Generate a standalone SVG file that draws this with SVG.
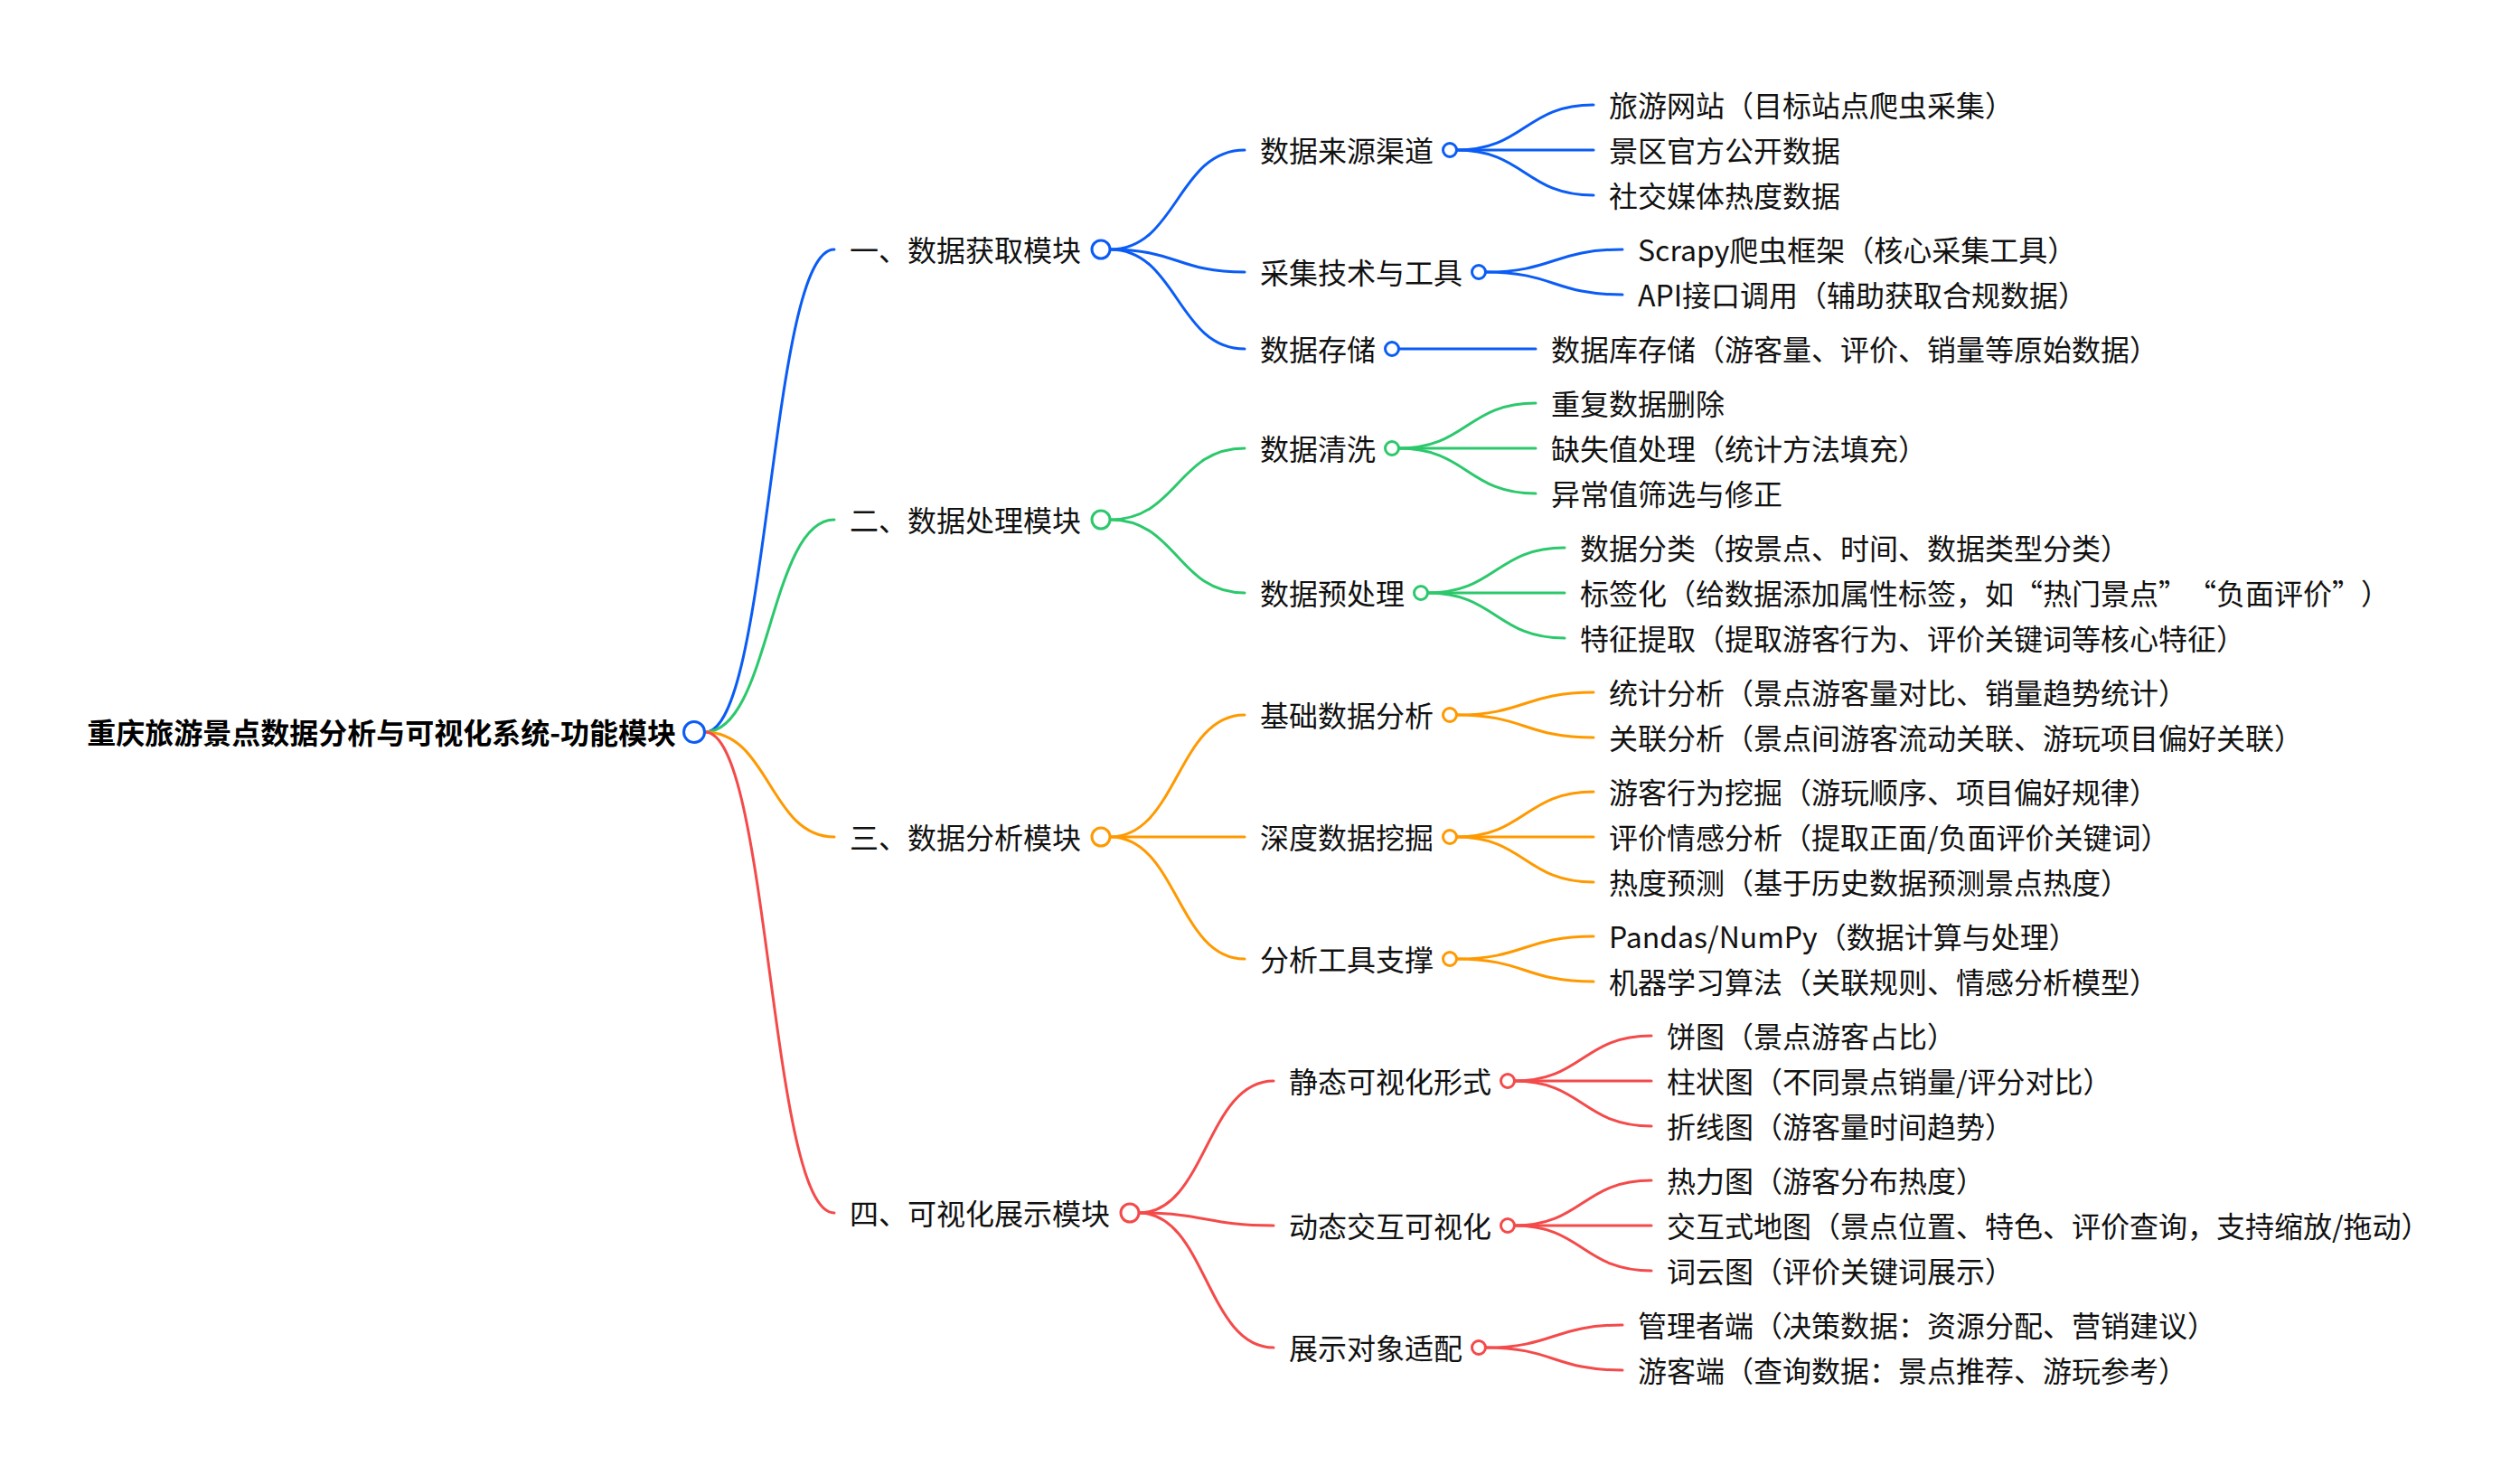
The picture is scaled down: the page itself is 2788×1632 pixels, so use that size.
<svg xmlns="http://www.w3.org/2000/svg" width="2788" height="1632" viewBox="0 0 2788 1632">
<style>
.t{font-family:"Noto Sans CJK SC","Noto Sans",sans-serif;font-size:32px;fill:#111}
.root{font-weight:bold;fill:#000}
.c{fill:none;stroke-width:3;stroke-linecap:round}
.n{fill:#fff;stroke-width:3}
.b{stroke:#0a5cf5}
.g{stroke:#2cc86c}
.o{stroke:#ff9900}
.r{stroke:#f44a4a}
</style>
<rect width="2788" height="1632" fill="#fff"/>
<g id="connectors">
<path class="c b" d="M780 810 C851.5 810 851.5 276 923 276"/>
<path class="c g" d="M780 810 C851.5 810 851.5 575 923 575"/>
<path class="c o" d="M780 810 C851.5 810 851.5 926 923 926"/>
<path class="c r" d="M780 810 C851.5 810 851.5 1342 923 1342"/>
<path class="c b" d="M1228 276 C1302.5 276 1302.5 166 1377 166"/>
<path class="c b" d="M1228 276 C1302.5 276 1302.5 301 1377 301"/>
<path class="c b" d="M1228 276 C1302.5 276 1302.5 386 1377 386"/>
<path class="c g" d="M1228 575 C1302.5 575 1302.5 496 1377 496"/>
<path class="c g" d="M1228 575 C1302.5 575 1302.5 656 1377 656"/>
<path class="c o" d="M1228 926 C1302.5 926 1302.5 791 1377 791"/>
<path class="c o" d="M1228 926 L1377 926"/>
<path class="c o" d="M1228 926 C1302.5 926 1302.5 1061 1377 1061"/>
<path class="c r" d="M1260 1342 C1334.5 1342 1334.5 1196 1409 1196"/>
<path class="c r" d="M1260 1342 C1334.5 1342 1334.5 1356 1409 1356"/>
<path class="c r" d="M1260 1342 C1334.5 1342 1334.5 1491 1409 1491"/>
<path class="c b" d="M1611.5 166 C1687 166 1687 116 1763 116"/>
<path class="c b" d="M1611.5 166 L1763 166"/>
<path class="c b" d="M1611.5 166 C1687 166 1687 216 1763 216"/>
<path class="c b" d="M1643.5 301 C1719 301 1719 276 1795 276"/>
<path class="c b" d="M1643.5 301 C1719 301 1719 326 1795 326"/>
<path class="c b" d="M1547.5 386 L1699 386"/>
<path class="c g" d="M1547.5 496 C1623 496 1623 446 1699 446"/>
<path class="c g" d="M1547.5 496 L1699 496"/>
<path class="c g" d="M1547.5 496 C1623 496 1623 546 1699 546"/>
<path class="c g" d="M1579.5 656 C1655 656 1655 606 1731 606"/>
<path class="c g" d="M1579.5 656 L1731 656"/>
<path class="c g" d="M1579.5 656 C1655 656 1655 706 1731 706"/>
<path class="c o" d="M1611.5 791 C1687 791 1687 766 1763 766"/>
<path class="c o" d="M1611.5 791 C1687 791 1687 816 1763 816"/>
<path class="c o" d="M1611.5 926 C1687 926 1687 876 1763 876"/>
<path class="c o" d="M1611.5 926 L1763 926"/>
<path class="c o" d="M1611.5 926 C1687 926 1687 976 1763 976"/>
<path class="c o" d="M1611.5 1061 C1687 1061 1687 1036 1763 1036"/>
<path class="c o" d="M1611.5 1061 C1687 1061 1687 1086 1763 1086"/>
<path class="c r" d="M1675.5 1196 C1751 1196 1751 1146 1827 1146"/>
<path class="c r" d="M1675.5 1196 L1827 1196"/>
<path class="c r" d="M1675.5 1196 C1751 1196 1751 1246 1827 1246"/>
<path class="c r" d="M1675.5 1356 C1751 1356 1751 1306 1827 1306"/>
<path class="c r" d="M1675.5 1356 L1827 1356"/>
<path class="c r" d="M1675.5 1356 C1751 1356 1751 1406 1827 1406"/>
<path class="c r" d="M1643.5 1491 C1719 1491 1719 1466 1795 1466"/>
<path class="c r" d="M1643.5 1491 C1719 1491 1719 1516 1795 1516"/>
</g>
<g id="root"><text class="t root" x="748" y="823" text-anchor="end">重庆旅游景点数据分析与可视化系统-功能模块</text><circle class="n b" cx="768" cy="810" r="11.5"/></g>
<g id="m1"><text class="t" x="940" y="289">一、数据获取模块</text><circle class="n b" cx="1218" cy="276" r="10"/></g>
<g id="m2"><text class="t" x="940" y="588">二、数据处理模块</text><circle class="n g" cx="1218" cy="575" r="10"/></g>
<g id="m3"><text class="t" x="940" y="939">三、数据分析模块</text><circle class="n o" cx="1218" cy="926" r="10"/></g>
<g id="m4"><text class="t" x="940" y="1355">四、可视化展示模块</text><circle class="n r" cx="1250" cy="1342" r="10"/></g>
<g id="m1a"><text class="t" x="1394" y="179">数据来源渠道</text><circle class="n b" cx="1604" cy="166" r="7.5"/></g>
<g id="m1b"><text class="t" x="1394" y="314">采集技术与工具</text><circle class="n b" cx="1636" cy="301" r="7.5"/></g>
<g id="m1c"><text class="t" x="1394" y="399">数据存储</text><circle class="n b" cx="1540" cy="386" r="7.5"/></g>
<g id="m2a"><text class="t" x="1394" y="509">数据清洗</text><circle class="n g" cx="1540" cy="496" r="7.5"/></g>
<g id="m2b"><text class="t" x="1394" y="669">数据预处理</text><circle class="n g" cx="1572" cy="656" r="7.5"/></g>
<g id="m3a"><text class="t" x="1394" y="804">基础数据分析</text><circle class="n o" cx="1604" cy="791" r="7.5"/></g>
<g id="m3b"><text class="t" x="1394" y="939">深度数据挖掘</text><circle class="n o" cx="1604" cy="926" r="7.5"/></g>
<g id="m3c"><text class="t" x="1394" y="1074">分析工具支撑</text><circle class="n o" cx="1604" cy="1061" r="7.5"/></g>
<g id="m4a"><text class="t" x="1426" y="1209">静态可视化形式</text><circle class="n r" cx="1668" cy="1196" r="7.5"/></g>
<g id="m4b"><text class="t" x="1426" y="1369">动态交互可视化</text><circle class="n r" cx="1668" cy="1356" r="7.5"/></g>
<g id="m4c"><text class="t" x="1426" y="1504">展示对象适配</text><circle class="n r" cx="1636" cy="1491" r="7.5"/></g>
<g id="l1"><text class="t" x="1780" y="129">旅游网站（目标站点爬虫采集）</text></g>
<g id="l2"><text class="t" x="1780" y="179">景区官方公开数据</text></g>
<g id="l3"><text class="t" x="1780" y="229">社交媒体热度数据</text></g>
<g id="l4"><text class="t" x="1812" y="289">Scrapy爬虫框架（核心采集工具）</text></g>
<g id="l5"><text class="t" x="1812" y="339">API接口调用（辅助获取合规数据）</text></g>
<g id="l6"><text class="t" x="1716" y="399">数据库存储（游客量、评价、销量等原始数据）</text></g>
<g id="l7"><text class="t" x="1716" y="459">重复数据删除</text></g>
<g id="l8"><text class="t" x="1716" y="509">缺失值处理（统计方法填充）</text></g>
<g id="l9"><text class="t" x="1716" y="559">异常值筛选与修正</text></g>
<g id="l10"><text class="t" x="1748" y="619">数据分类（按景点、时间、数据类型分类）</text></g>
<g id="l11"><text class="t" x="1748" y="669">标签化（给数据添加属性标签，如“热门景点”<tspan dx="16">“负面评价”</tspan><tspan dx="16">）</tspan></text></g>
<g id="l12"><text class="t" x="1748" y="719">特征提取（提取游客行为、评价关键词等核心特征）</text></g>
<g id="l13"><text class="t" x="1780" y="779">统计分析（景点游客量对比、销量趋势统计）</text></g>
<g id="l14"><text class="t" x="1780" y="829">关联分析（景点间游客流动关联、游玩项目偏好关联）</text></g>
<g id="l15"><text class="t" x="1780" y="889">游客行为挖掘（游玩顺序、项目偏好规律）</text></g>
<g id="l16"><text class="t" x="1780" y="939">评价情感分析（提取正面/负面评价关键词）</text></g>
<g id="l17"><text class="t" x="1780" y="989">热度预测（基于历史数据预测景点热度）</text></g>
<g id="l18"><text class="t" x="1780" y="1049">Pandas/NumPy（数据计算与处理）</text></g>
<g id="l19"><text class="t" x="1780" y="1099">机器学习算法（关联规则、情感分析模型）</text></g>
<g id="l20"><text class="t" x="1844" y="1159">饼图（景点游客占比）</text></g>
<g id="l21"><text class="t" x="1844" y="1209">柱状图（不同景点销量/评分对比）</text></g>
<g id="l22"><text class="t" x="1844" y="1259">折线图（游客量时间趋势）</text></g>
<g id="l23"><text class="t" x="1844" y="1319">热力图（游客分布热度）</text></g>
<g id="l24"><text class="t" x="1844" y="1369">交互式地图（景点位置、特色、评价查询，支持缩放/拖动）</text></g>
<g id="l25"><text class="t" x="1844" y="1419">词云图（评价关键词展示）</text></g>
<g id="l26"><text class="t" x="1812" y="1479">管理者端（决策数据：资源分配、营销建议）</text></g>
<g id="l27"><text class="t" x="1812" y="1529">游客端（查询数据：景点推荐、游玩参考）</text></g>
</svg>
